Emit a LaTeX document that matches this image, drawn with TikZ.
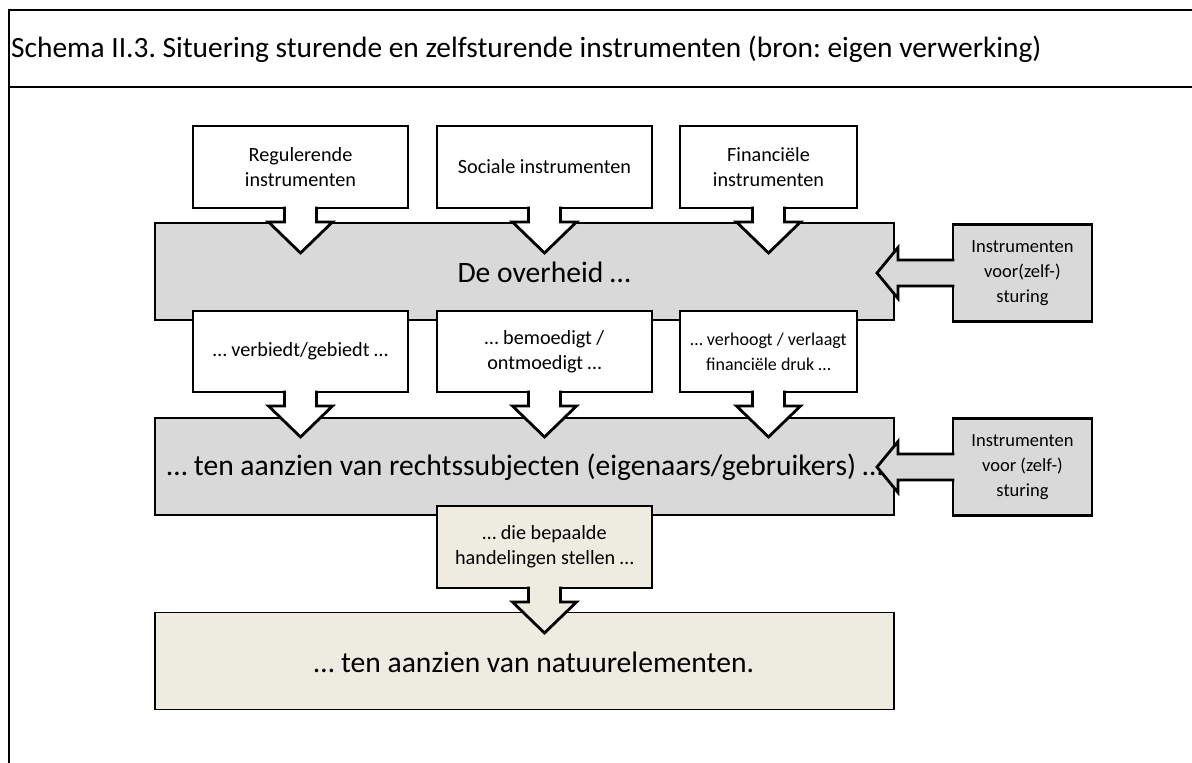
\documentclass[tikz,border=0pt]{standalone}
\usepackage{fontspec}
\setmainfont{Carlito}
\usepackage{tikz}
\usetikzlibrary{calc}
\frenchspacing
\definecolor{boxgrey}{HTML}{D9D9D9}
\definecolor{boxtan}{HTML}{EEECE1}
\tikzset{
    frameline/.style={line width=2pt},
    bigbox/.style={draw, line width=1.8pt, inner sep=0pt, outer sep=0pt, minimum width=739pt, minimum height=97pt},
    bigtext/.style={inner sep=0pt, font=\fontsize{29.6}{36}\selectfont},
    callbox/.style={draw, line width=2.8pt, fill=white, inner sep=0pt, outer sep=0pt, align=center, minimum height=82pt, font=\fontsize{20.2}{25}\selectfont},
    sidebox/.style={callbox, minimum width=139pt, minimum height=97pt, fill=boxgrey, font=\fontsize{18.5}{25}\selectfont},
    arrowline/.style={line width=2.8pt, miter limit=20},
}
\newcommand{\downcallout}[2]{%
  \fill[#2] ($(#1.south)+(-16,-3)$) -- ($(#1.south)+(-16,14)$) -- ($(#1.south)+(-32,14)$) -- ($(#1.south)+(0,45)$) -- ($(#1.south)+(32,14)$) -- ($(#1.south)+(16,14)$) -- ($(#1.south)+(16,-3)$) -- cycle;
  \draw[arrowline] ($(#1.south)+(-16,-1.4)$) -- ($(#1.south)+(-16,14)$) -- ($(#1.south)+(-32,14)$) -- ($(#1.south)+(0,45)$) -- ($(#1.south)+(32,14)$) -- ($(#1.south)+(16,14)$) -- ($(#1.south)+(16,-1.4)$);
}
\newcommand{\leftcallout}[2]{%
  \fill[#2] ($(#1.west)+(3,-13)$) -- ($(#1.west)+(-55,-13)$) -- ($(#1.west)+(-55,-25.5)$) -- ($(#1.west)+(-76,0)$) -- ($(#1.west)+(-55,25.5)$) -- ($(#1.west)+(-55,13)$) -- ($(#1.west)+(3,13)$) -- cycle;
  \draw[arrowline] ($(#1.west)+(1.4,-13)$) -- ($(#1.west)+(-55,-13)$) -- ($(#1.west)+(-55,-25.5)$) -- ($(#1.west)+(-76,0)$) -- ($(#1.west)+(-55,25.5)$) -- ($(#1.west)+(-55,13)$) -- ($(#1.west)+(1.4,13)$);
}

\begin{document}
\begin{tikzpicture}[x=1pt, y=-1pt]
  \useasboundingbox[fill=white] (0,0) rectangle (1192,763);
  \draw[frameline] (9,763) -- (9,10) -- (1192,10);
  \draw[frameline] (9,87) -- (1192,87);
  \node[anchor=west, inner sep=0pt, font=\fontsize{29.4}{35}\selectfont] (title) at (11,49) {Schema II.3. Situering sturende en zelfsturende instrumenten (bron: eigen verwerking)};

  \node[bigbox, fill=boxgrey] (overheid) at (524.5,271.5) {};
  \node[bigtext] (overheidtxt) at (544,272) {De overheid …};
  \node[bigbox, fill=boxgrey] (subject) at (524.5,466.5) {};
  \node[bigtext] (subjecttxt) at (525,467) {… ten aanzien van rechtssubjecten (eigenaars/gebruikers) …};
  \node[bigbox, fill=boxtan] (natuur) at (524.5,661) {};
  \node[bigtext] (natuurtxt) at (534,662) {… ten aanzien van natuurelementen.};

  \node[callbox, minimum width=215pt] (reg) at (300.5,167) {Regulerende\\instrumenten};
  \downcallout{reg}{white}
  \node[callbox, minimum width=215pt] (soc) at (544.5,167) {Sociale instrumenten};
  \downcallout{soc}{white}
  \node[callbox, minimum width=177pt] (fin) at (768.5,167) {Financiële\\instrumenten};
  \downcallout{fin}{white}

  \node[callbox, minimum width=215pt, minimum height=81pt] (verbod) at (300.5,351.5) {… verbiedt/gebiedt …};
  \downcallout{verbod}{white}
  \node[callbox, minimum width=215pt, minimum height=81pt] (bemoed) at (544.5,351.5) {… bemoedigt /\\ontmoedigt …};
  \downcallout{bemoed}{white}
  \node[callbox, minimum width=177pt, minimum height=81pt, font=\fontsize{18}{25}\selectfont] (druk) at (768.5,351.5) {… verhoogt / verlaagt\\financiële druk …};
  \downcallout{druk}{white}

  \node[callbox, minimum width=215pt, fill=boxtan] (handel) at (544.5,547) {… die bepaalde\\handelingen stellen …};
  \downcallout{handel}{boxtan}

  \node[sidebox] (zelfa) at (1022.5,273) {Instrumenten\\voor(zelf-)\\sturing};
  \leftcallout{zelfa}{boxgrey}
  \node[sidebox] (zelfb) at (1022.5,467) {Instrumenten\\voor (zelf-)\\sturing};
  \leftcallout{zelfb}{boxgrey}
\end{tikzpicture}
\end{document}
